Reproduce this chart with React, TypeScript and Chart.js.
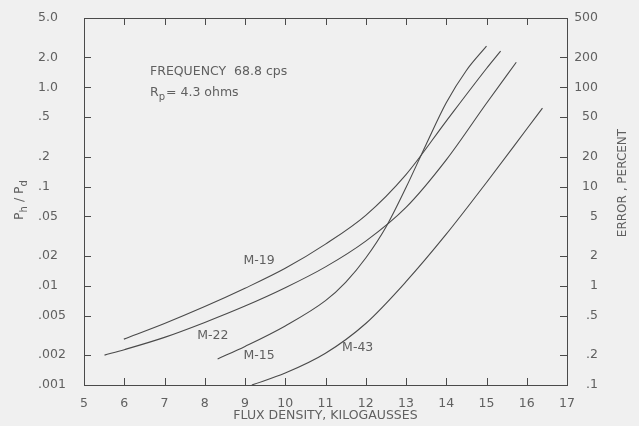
import React, { useEffect, useRef } from 'react';
import { Chart, registerables } from 'chart.js';

Chart.register(...registerables);

// ---- data ----
const m19X = [5.99, 7, 8, 9, 10, 11, 12, 13, 14, 15, 15.35];
const m19Y = [0.0029, 0.00417, 0.00617, 0.00944, 0.015, 0.0263, 0.0513, 0.132, 0.457, 1.55, 2.32];

const m22X = [5.51, 6, 7, 8, 9, 10, 11, 12, 13, 14, 15, 15.74];
const m22Y = [0.002, 0.00227, 0.00302, 0.00427, 0.00624, 0.00955, 0.0155, 0.0282, 0.0617, 0.186, 0.692, 1.79];

const m15X = [8.32, 9, 10, 11, 11.5, 12, 12.5, 13, 13.5, 14, 14.5, 15];
const m15Y = [0.00183, 0.00245, 0.00394, 0.00708, 0.01084, 0.01905, 0.0389, 0.0977, 0.266, 0.7, 1.48, 2.6];

const m43X = [9.17, 10, 11, 12, 13, 14, 15, 16, 16.39];
const m43Y = [0.001, 0.00132, 0.00209, 0.00417, 0.011, 0.0331, 0.11, 0.38, 0.617];

const xTicks = [5, 6, 7, 8, 9, 10, 11, 12, 13, 14, 15, 16, 17];
const leftTicks = [0.001, 0.002, 0.005, 0.01, 0.02, 0.05, 0.1, 0.2, 0.5, 1, 2, 5];
const leftTickLabels = ['.001', '.002', '.005', '.01', '.02', '.05', '.1', '.2', '.5', '1.0', '2.0', '5.0'];
const rightTicks = [0.1, 0.2, 0.5, 1, 2, 5, 10, 20, 50, 100, 200, 500];
const rightTickLabels = ['.1', '.2', '.5', '1', '2', '5', '10', '20', '50', '100', '200', '500'];

const seriesNames = ['M-19', 'M-22', 'M-15', 'M-43'];
const curveLabelAt = [
  { x: 9.35, y: 0.0178 },
  { x: 8.2, y: 0.0031 },
  { x: 9.35, y: 0.00195 },
  { x: 11.8, y: 0.0024 },
];

const FONT = '"DejaVu Sans", sans-serif';
const TEXT = '#606060';
const LINE = '#4a4a4a';

function labelFor(list: number[], labels: string[], v: number) {
  const i = list.findIndex((t) => Math.abs(t - v) / t < 1e-6);
  return i >= 0 ? labels[i] : '';
}

const pts = (xs: number[], ys: number[]) => xs.map((x, i) => ({ x, y: ys[i] }));

const decor = {
  id: 'decor',
  afterDraw(chart: any) {
    const ctx: CanvasRenderingContext2D = chart.ctx;
    const { left, right, top, bottom } = chart.chartArea;
    const xs = chart.scales.x;
    const yl = chart.scales.y;
    const yr = chart.scales.y2;
    ctx.save();
    ctx.strokeStyle = LINE;
    ctx.lineWidth = 1;
    ctx.strokeRect(Math.round(left) + 0.5, Math.round(top) + 0.5, Math.round(right - left), Math.round(bottom - top));
    ctx.beginPath();
    const tl = 7;
    xTicks.slice(1, -1).forEach((v) => {
      const px = Math.round(xs.getPixelForValue(v)) + 0.5;
      ctx.moveTo(px, bottom);
      ctx.lineTo(px, bottom - tl);
      ctx.moveTo(px, top);
      ctx.lineTo(px, top + tl);
    });
    leftTicks.slice(1, -1).forEach((v) => {
      const py = Math.round(yl.getPixelForValue(v)) + 0.5;
      ctx.moveTo(left, py);
      ctx.lineTo(left + tl, py);
    });
    rightTicks.slice(1, -1).forEach((v) => {
      const py = Math.round(yr.getPixelForValue(v)) + 0.5;
      ctx.moveTo(right, py);
      ctx.lineTo(right - tl, py);
    });
    ctx.stroke();

    ctx.fillStyle = TEXT;
    ctx.textBaseline = 'middle';
    ctx.font = `12.5px ${FONT}`;

    // x title
    ctx.textAlign = 'center';
    ctx.fillText('FLUX DENSITY, KILOGAUSSES', (left + right) / 2, 416);

    // annotation
    ctx.textAlign = 'left';
    ctx.fillText('FREQUENCY  68.8 cps', 150, 72);
    ctx.fillText('R', 150, 93);
    const rw = ctx.measureText('R').width;
    ctx.font = `10px ${FONT}`;
    ctx.fillText('p', 150 + rw, 97);
    const pw = ctx.measureText('p').width;
    ctx.font = `12.5px ${FONT}`;
    ctx.fillText('= 4.3 ohms', 150 + rw + pw + 1, 93);

    // curve labels
    ctx.font = `12.5px ${FONT}`;
    ctx.textAlign = 'center';
    seriesNames.forEach((n, i) => {
      const p = curveLabelAt[i];
      ctx.fillText(n, xs.getPixelForValue(p.x), yl.getPixelForValue(p.y));
    });

    // left title P_h / P_d (rotated)
    ctx.save();
    ctx.translate(20, 200);
    ctx.rotate(-Math.PI / 2);
    const runs = [
      { t: 'P', s: 12.5, dy: 0 },
      { t: 'h', s: 10, dy: 4 },
      { t: ' / ', s: 12.5, dy: 0 },
      { t: 'P', s: 12.5, dy: 0 },
      { t: 'd', s: 10, dy: 4 },
    ];
    let total = 0;
    runs.forEach((r) => {
      ctx.font = `${r.s}px ${FONT}`;
      total += ctx.measureText(r.t).width;
    });
    let cx = -total / 2;
    ctx.textAlign = 'left';
    runs.forEach((r) => {
      ctx.font = `${r.s}px ${FONT}`;
      ctx.fillText(r.t, cx, r.dy);
      cx += ctx.measureText(r.t).width;
    });
    ctx.restore();

    // right title
    ctx.save();
    ctx.translate(623, 183);
    ctx.rotate(-Math.PI / 2);
    ctx.font = `12px ${FONT}`;
    ctx.textAlign = 'center';
    ctx.fillText('ERROR , PERCENT', 0, 0);
    ctx.restore();

    ctx.restore();
  },
};

export default function App() {
  const ref = useRef<HTMLCanvasElement | null>(null);
  useEffect(() => {
    if (!ref.current) return;
    const mk = (xsArr: number[], ysArr: number[], label: string) => ({
      label,
      data: pts(xsArr, ysArr),
      borderColor: LINE,
      borderWidth: 1.1,
      pointRadius: 0,
      tension: 0.4,
      cubicInterpolationMode: 'monotone' as const,
      fill: false,
      yAxisID: 'y',
    });
    const tickFont = { family: FONT, size: 12.5 };
    const chart = new Chart(ref.current, {
      type: 'line',
      data: {
        datasets: [
          mk(m19X, m19Y, seriesNames[0]),
          mk(m22X, m22Y, seriesNames[1]),
          mk(m15X, m15Y, seriesNames[2]),
          mk(m43X, m43Y, seriesNames[3]),
        ],
      },
      options: {
        animation: false,
        responsive: false,
        devicePixelRatio: 1,
        layout: { padding: { left: 38, right: 41, top: 18, bottom: 0 } },
        plugins: { legend: { display: false }, tooltip: { enabled: false } },
        scales: {
          x: {
            type: 'linear',
            position: 'bottom',
            min: 5,
            max: 17,
            grid: { display: false, drawTicks: false },
            border: { display: false },
            afterBuildTicks: (s: any) => {
              s.ticks = xTicks.map((v) => ({ value: v }));
            },
            afterFit: (s: any) => {
              s.height = 41;
            },
            ticks: { autoSkip: false, maxRotation: 0, padding: 11, color: TEXT, font: tickFont, callback: (v: any) => String(v) },
          },
          y: {
            type: 'logarithmic',
            position: 'left',
            min: 0.001,
            max: 5,
            grid: { display: false, drawTicks: false },
            border: { display: false },
            afterBuildTicks: (s: any) => {
              s.ticks = leftTicks.map((v) => ({ value: v }));
            },
            afterFit: (s: any) => {
              s.width = 46;
            },
            ticks: {
              autoSkip: false,
              crossAlign: 'far',
              color: TEXT,
              font: tickFont,
              callback: (v: any) => labelFor(leftTicks, leftTickLabels, Number(v)),
            },
          },
          y2: {
            type: 'logarithmic',
            position: 'right',
            min: 0.1,
            max: 500,
            grid: { display: false, drawTicks: false },
            border: { display: false },
            afterBuildTicks: (s: any) => {
              s.ticks = rightTicks.map((v) => ({ value: v }));
            },
            afterFit: (s: any) => {
              s.width = 31;
            },
            ticks: {
              autoSkip: false,
              crossAlign: 'far',
              color: TEXT,
              font: tickFont,
              callback: (v: any) => labelFor(rightTicks, rightTickLabels, Number(v)),
            },
          },
        },
      },
      plugins: [decor],
    } as any);
    return () => chart.destroy();
  }, []);
  return (
    <div style={{ position: 'absolute', left: 0, top: 0, width: 639, height: 426, background: '#f0f0f0' }}>
      <canvas ref={ref} width={639} height={426} style={{ display: 'block', width: 639, height: 426 }} />
    </div>
  );
}
